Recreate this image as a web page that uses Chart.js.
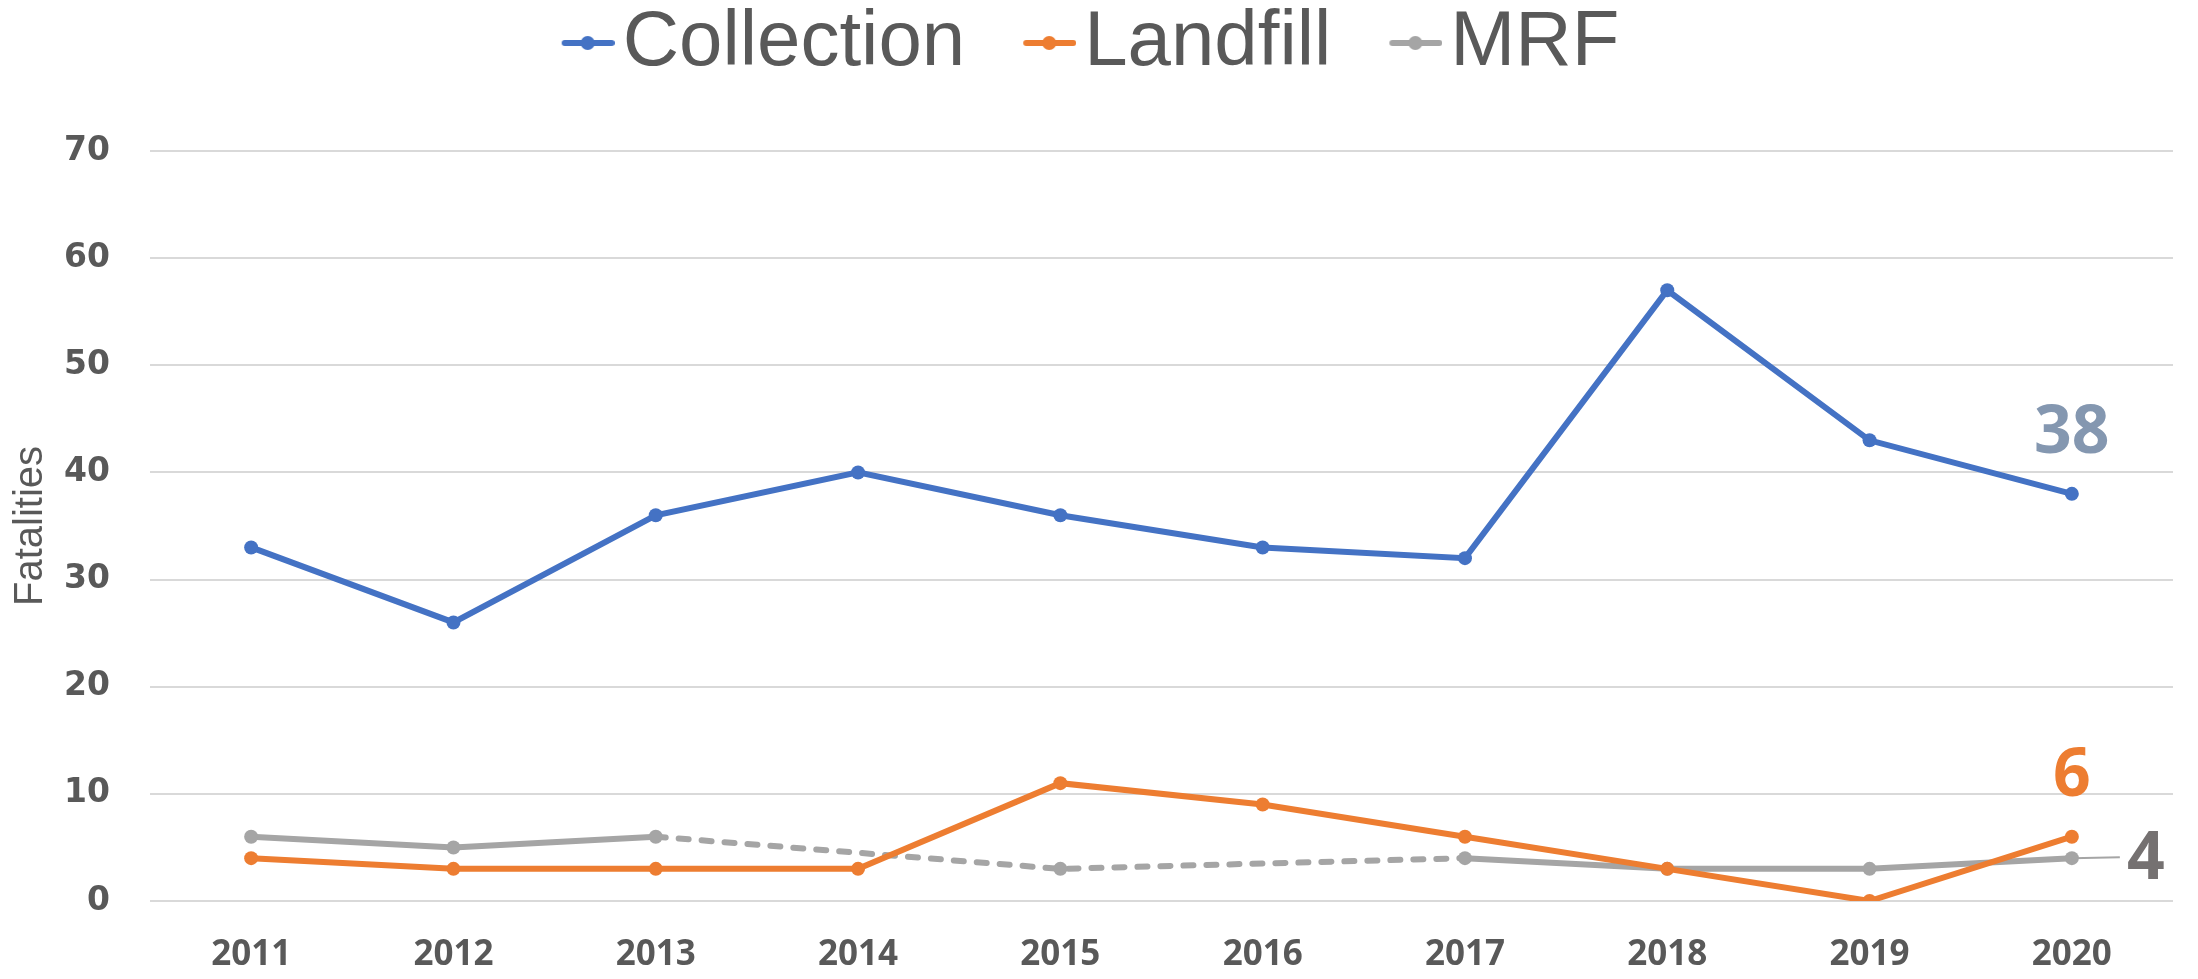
<!DOCTYPE html>
<html>
<head>
<meta charset="utf-8">
<script src="https://cdn.jsdelivr.net/npm/chart.js@4.4.1/dist/chart.umd.min.js"></script>
<style>
  html, body { margin: 0; padding: 0; background: #ffffff; }
  #wrap { width: 2198px; height: 979px; position: relative; }
</style>
</head>
<body>
<div id="wrap"><canvas id="chart"></canvas></div>
<script>
// Years on the x axis
const years = ['2011', '2012', '2013', '2014', '2015', '2016', '2017', '2018', '2019', '2020'];

// Fatalities per sector (null = no value reported, spanned with a dashed line)
const collection = [33, 26, 36, 40, 36, 33, 32, 57, 43, 38];
const landfill = [4, 3, 3, 3, 11, 9, 6, 3, 0, 6];
const mrf = [6, 5, 6, null, 3, null, 4, 3, 3, 4];

const yTicks = [0, 10, 20, 30, 40, 50, 60, 70];

const BLUE = '#4472C4';
const ORANGE = '#ED7D31';
const GREY = '#A5A5A5';
const TEXT = '#595959';

// Legend marker: short line with a dot, drawn on the right part of a wider image
function legendMarker(color) {
  const c = document.createElement('canvas');
  c.width = 142;
  c.height = 20;
  const g = c.getContext('2d');
  g.strokeStyle = color;
  g.lineWidth = 6;
  g.lineCap = 'round';
  g.beginPath();
  g.moveTo(92, 10);
  g.lineTo(139, 10);
  g.stroke();
  g.fillStyle = color;
  g.beginPath();
  g.arc(115, 10, 7, 0, Math.PI * 2);
  g.fill();
  return c;
}

// Pin the legend band height so the plot starts where it does in the original,
// and nudge the legend row a little left/down when it is drawn
const legendTweak = {
  id: 'legendTweak',
  beforeUpdate(chart) {
    const lg = chart.legend;
    if (lg && !lg._pinned) {
      const fit = lg.fit;
      lg.fit = function () {
        fit.call(this);
        this.height = 151;
      };
      const draw = lg.draw;
      lg.draw = function (area) {
        const ctx = this.ctx;
        ctx.save();
        ctx.translate(-25, 4);
        draw.call(this, area);
        ctx.restore();
      };
      lg._pinned = true;
    }
  },
};

// Last-point value labels (38 / 6 / 4)
const endLabels = {
  id: 'endLabels',
  afterDatasetsDraw(chart) {
    const ctx = chart.ctx;
    const last = years.length - 1;
    const specs = [
      { ds: 0, color: '#8497B0', dx: 0, dy: -60 },
      { ds: 1, color: ORANGE, dx: 0, dy: -60 },
      { ds: 2, color: '#757171', dx: 74, dy: 2, leader: true },
    ];
    ctx.save();
    ctx.font = 'bold 66px "Open Sans"';
    ctx.textAlign = 'center';
    ctx.textBaseline = 'middle';
    specs.forEach(s => {
      const pt = chart.getDatasetMeta(s.ds).data[last];
      const value = chart.data.datasets[s.ds].data[last];
      if (s.leader) {
        ctx.strokeStyle = GREY;
        ctx.lineWidth = 2;
        ctx.beginPath();
        ctx.moveTo(pt.x, pt.y);
        ctx.lineTo(pt.x + 48, pt.y - 1);
        ctx.stroke();
      }
      ctx.fillStyle = s.color;
      ctx.fillText(String(value), pt.x + s.dx, pt.y + s.dy);
    });
    ctx.restore();
  },
};

const skipped = (ctx, value) => (ctx.p0.skip || ctx.p1.skip ? value : undefined);

const lineStyle = color => ({
  borderColor: color,
  backgroundColor: color,
  borderWidth: 6,
  pointRadius: 7,
  pointHoverRadius: 7,
  pointBackgroundColor: color,
  pointBorderWidth: 0,
  tension: 0,
  fill: false,
});

new Chart(document.getElementById('chart'), {
  type: 'line',
  data: {
    labels: years,
    datasets: [
      { label: 'Collection', data: collection, ...lineStyle(BLUE) },
      { label: 'Landfill', data: landfill, ...lineStyle(ORANGE) },
      {
        label: 'MRF',
        data: mrf,
        ...lineStyle(GREY),
        spanGaps: true,
        segment: {
          borderDash: ctx => skipped(ctx, [10, 13]),
          borderCapStyle: ctx => skipped(ctx, 'round'),
        },
      },
    ],
  },
  options: {
    responsive: true,
    maintainAspectRatio: false,
    animation: false,
    layout: { padding: { top: 0, right: 25, bottom: 0, left: 0 } },
    plugins: {
      legend: {
        position: 'top',
        labels: {
          usePointStyle: true,
          pointStyleWidth: 80,
          padding: 0,
          color: TEXT,
          font: { family: '"Liberation Sans", Arial, sans-serif', size: 78 },
          generateLabels(chart) {
            const items = Chart.defaults.plugins.legend.labels.generateLabels(chart);
            const colors = [BLUE, ORANGE, GREY];
            items.forEach((it, i) => { it.pointStyle = legendMarker(colors[i]); });
            return items;
          },
        },
      },
      tooltip: { enabled: false },
    },
    scales: {
      x: {
        offset: true,
        grid: { display: false, drawTicks: false },
        border: { display: false },
        ticks: {
          color: TEXT,
          padding: 33,
          font: { family: '"Open Sans", sans-serif', size: 35, weight: 'bold' },
        },
        afterFit(scale) { scale.height = 78; },
      },
      y: {
        min: 0,
        max: 70,
        afterBuildTicks(scale) { scale.ticks = yTicks.map(v => ({ value: v })); },
        grid: { color: '#D9D9D9', lineWidth: 2, drawTicks: false },
        border: { display: false },
        ticks: {
          color: TEXT,
          padding: 40,
          font: { family: '"DejaVu Sans", sans-serif', size: 33, weight: 'bold' },
        },
        title: {
          display: true,
          text: 'Fatalities',
          color: TEXT,
          padding: { top: 7, bottom: 0 },
          font: { family: '"Liberation Sans", Arial, sans-serif', size: 40 },
        },
        afterFit(scale) { scale.width = 150; },
      },
    },
  },
  plugins: [legendTweak, endLabels],
});
</script>
</body>
</html>
